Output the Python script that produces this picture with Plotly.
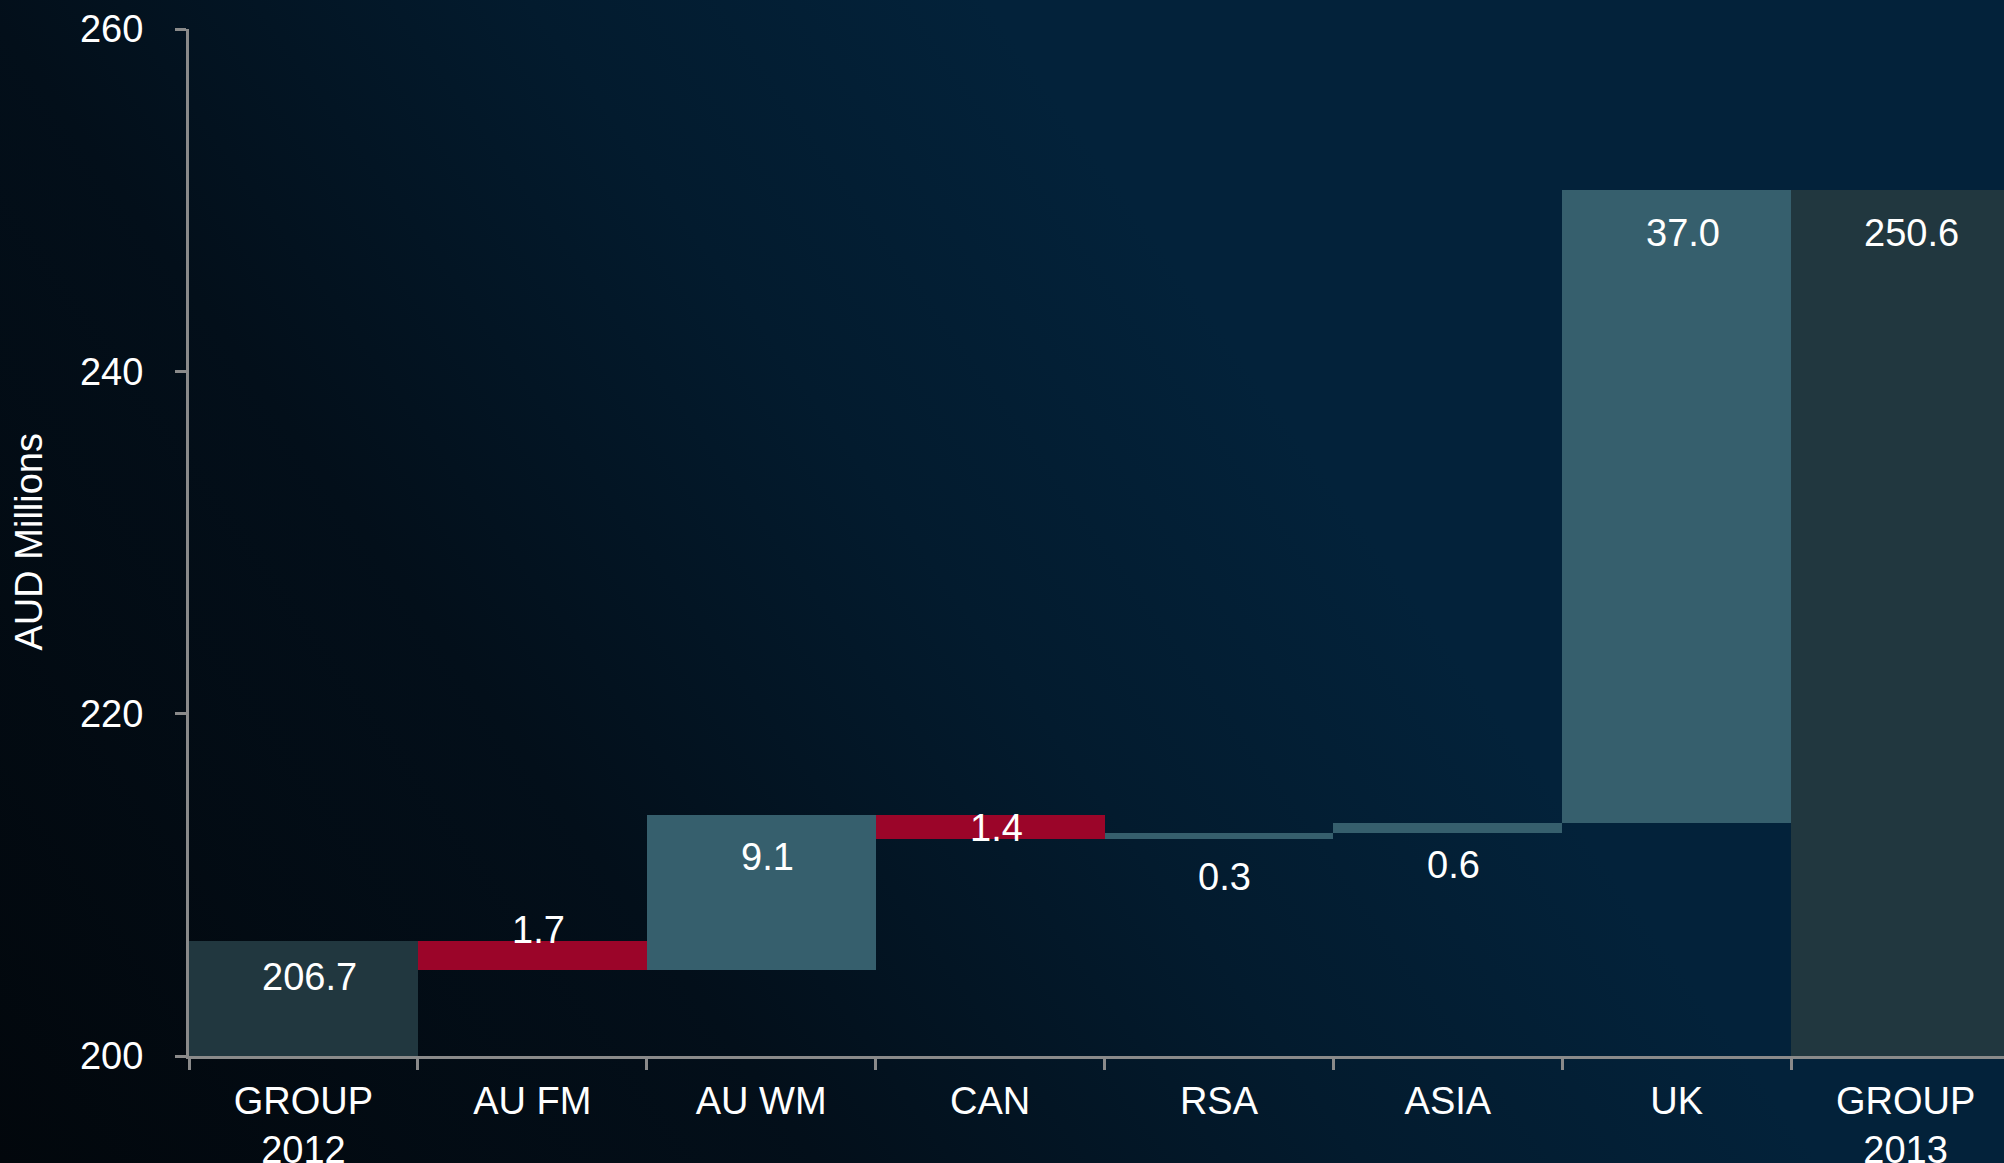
import base64
import plotly.graph_objects as go

# Operating earnings bridge, AUD millions
categories = ["GROUP<br>2012", "AU FM", "AU WM", "CAN", "RSA", "ASIA", "UK", "GROUP<br>2013"]
values = [206.7, -1.7, 9.1, -1.4, 0.3, 0.6, 37.0, 250.6]
measures = ["absolute", "relative", "relative", "relative", "relative", "relative", "relative", "total"]
y_ticks = [200, 220, 240, 260]

FONT = "Liberation Sans, Arial, sans-serif"
AXIS_GREY = "#8a8a8a"

# Label placement: pixel offset from the top of each bar
label_shift = [-36, 11, -42, -13, -44, -42, -43, -43]

# cumulative levels so labels sit on the bars they describe
tops = []
running = 0.0
for v, m in zip(values, measures):
    if m == "absolute":
        start, end = 0.0, v
        running = v
    elif m == "total":
        start, end = 0.0, running
    else:
        start, end = running, running + v
        running = end
    tops.append(max(start, end))

fig = go.Figure()
fig.add_trace(go.Waterfall(
    x=categories,
    y=values,
    measure=measures,
    increasing=dict(marker=dict(color="#365f6d")),
    decreasing=dict(marker=dict(color="#9b0529")),
    totals=dict(marker=dict(color="#21373f")),
    connector=dict(visible=False),
    textinfo="none",
    hoverinfo="x+y",
))

for i, (cat, v, top, dy) in enumerate(zip(categories, values, tops, label_shift)):
    fig.add_annotation(
        x=i, y=top, xref="x", yref="y",
        text=f"{abs(v):.1f}",
        showarrow=False,
        yshift=dy, xshift=6,
        font=dict(family=FONT, size=38, color="white"),
    )

plot_w = 2004 - 189
plot_h = 1056 - 29

# axis title
fig.add_annotation(
    x=-184 / plot_w, y=0.5, xref="paper", yref="paper",
    text="AUD Millions", textangle=-90, showarrow=False,
    font=dict(family=FONT, size=38, color="white"),
)

# dark blue gradient backdrop
svg = (
    '<svg xmlns="http://www.w3.org/2000/svg" width="2004" height="1163" '
    'viewBox="0 0 2004 1163" preserveAspectRatio="none">'
    '<defs><linearGradient id="g" gradientUnits="userSpaceOnUse" x1="0" y1="1163" x2="1200" y2="300">'
    '<stop offset="0" stop-color="#02070c"/>'
    '<stop offset="0.45" stop-color="#030f1a"/>'
    '<stop offset="0.75" stop-color="#031b2e"/>'
    '<stop offset="1" stop-color="#03223a"/>'
    '</linearGradient></defs>'
    '<rect width="2004" height="1163" fill="url(#g)"/></svg>'
)
src = "data:image/svg+xml;base64," + base64.b64encode(svg.encode()).decode()

fig.add_layout_image(
    source=src, xref="paper", yref="paper",
    x=-189 / plot_w, y=1 + 29 / plot_h,
    sizex=2004 / plot_w, sizey=1163 / plot_h,
    xanchor="left", yanchor="top", sizing="stretch", layer="below",
)

fig.update_layout(
    width=2004, height=1163,
    margin=dict(l=189, r=0, t=29, b=107),
    paper_bgcolor="#031320",
    plot_bgcolor="rgba(0,0,0,0)",
    waterfallgap=0,
    showlegend=False,
    font=dict(family=FONT, size=38, color="white"),
)
fig.update_xaxes(
    range=[-0.5, 7.43],
    tickson="boundaries",
    showline=True, linecolor=AXIS_GREY, linewidth=3,
    ticks="outside", ticklen=11, tickwidth=3, tickcolor=AXIS_GREY,
    showgrid=False, zeroline=False, automargin=False,
    tickfont=dict(family=FONT, size=38, color="white"),
    ticklabelstandoff=9,
)
fig.update_yaxes(
    range=[200, 260],
    tickvals=y_ticks,
    showline=True, linecolor=AXIS_GREY, linewidth=3,
    ticks="outside", ticklen=11, tickwidth=3, tickcolor=AXIS_GREY,
    showgrid=False, zeroline=False, automargin=False,
    tickfont=dict(family=FONT, size=38, color="white"),
    ticklabelstandoff=24,
)

fig.write_html("out.html")
